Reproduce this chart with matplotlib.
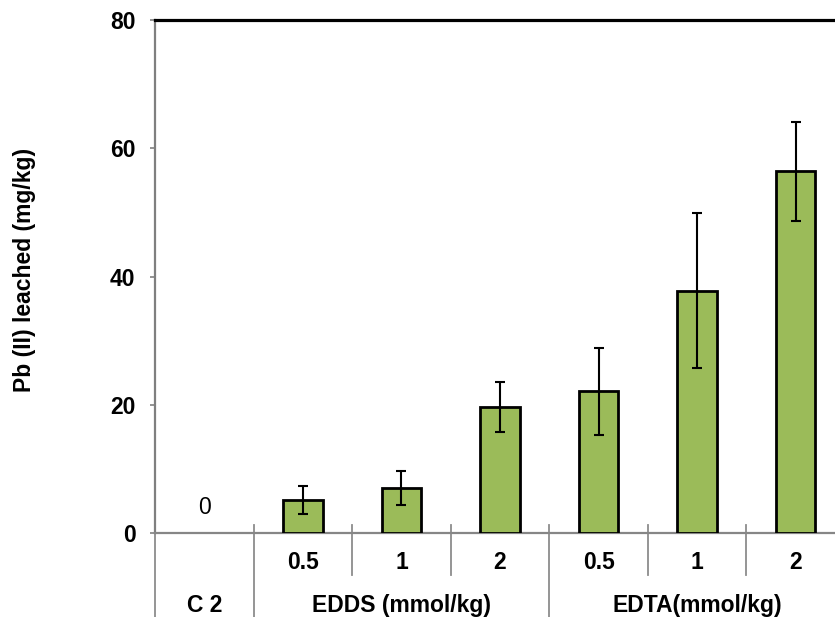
import matplotlib
matplotlib.use("Agg")
import matplotlib.pyplot as plt
import matplotlib.transforms as mtransforms
import numpy as np

# ---- data ----
groups = ["C 2", "EDDS (mmol/kg)", "EDTA(mmol/kg)"]
group_sizes = [1, 3, 3]
sub_labels = ["", "0.5", "1", "2", "0.5", "1", "2"]
values = [0.0, 5.1, 7.0, 19.6, 22.1, 37.8, 56.4]
errors = [0.0, 2.2, 2.7, 3.9, 6.8, 12.1, 7.7]
yticks = [0, 20, 40, 60, 80]
ylabel = "Pb (II) leached (mg/kg)"

plt.rcParams['font.family'] = ['Liberation Sans', 'DejaVu Sans']
FS = 16.5

W, H = 835, 617
fig = plt.figure(figsize=(W / 100, H / 100), dpi=100)
ax_left, ax_bottom = 155 / W, (H - 533) / H
ax_w, ax_h = 690 / W, 513 / H
ax = fig.add_axes([ax_left, ax_bottom, ax_w, ax_h])

x = np.arange(len(values))
vals = np.array(values)
errs = np.array(errors)
edge = ["black" if v > 0 else "none" for v in vals]
ax.bar(x, vals, width=0.4, color="#9BBB59", edgecolor=edge,
       linewidth=2.0, zorder=3)
mask = errs > 0
ax.errorbar(x[mask], vals[mask], yerr=errs[mask],
            fmt="none", ecolor="black", elinewidth=1.5, capsize=3.8,
            capthick=1.5, zorder=4)

# data label for zero-valued bar
for xi, v in zip(x, vals):
    if v == 0:
        ax.text(xi, v + 4.0, "0", ha="center", va="center", fontsize=FS,
                color="black")

ax.set_xlim(-0.5, len(values) - 0.5)
ax.set_ylim(0, 80)
ax.set_yticks(yticks)
ax.set_yticklabels([str(t) for t in yticks], fontsize=FS, fontweight="bold")
ax.tick_params(axis="y", direction="out", length=3.6, width=1.2,
               color="#808080", pad=10.5)
ax.set_xticks([])

ax.spines["top"].set_color("black")
ax.spines["top"].set_linewidth(2.3)
ax.spines["right"].set_color("black")
ax.spines["right"].set_linewidth(2.3)
ax.spines["left"].set_color("#7f7f7f")
ax.spines["left"].set_linewidth(1.6)
ax.spines["bottom"].set_color("#868686")
ax.spines["bottom"].set_linewidth(1.6)

# multi-level category axis
trans = mtransforms.blended_transform_factory(ax.transData, fig.transFigure)
top_tick = (H - 525) / H
short_end = (H - 575) / H
sep_color = "#8c8c8c"

bounds = np.arange(len(values) + 1) - 0.5
group_edges = np.concatenate([[0], np.cumsum(group_sizes)]) - 0.5
for b in bounds:
    is_group = np.any(np.isclose(group_edges, b))
    y0 = 0.0 if is_group else short_end
    ax.plot([b, b], [top_tick if b > -0.5 else ax_bottom, y0], color=sep_color,
            lw=1.3, transform=trans, clip_on=False, zorder=1)

for xi, lab in zip(x, sub_labels):
    if lab:
        ax.text(xi, (H - 569) / H, lab, transform=trans, ha="center",
                va="baseline", fontsize=FS, fontweight="bold")

start = 0
for g, n in zip(groups, group_sizes):
    cx = start + (n - 1) / 2
    ax.text(cx, (H - 612) / H, g, transform=trans, ha="center",
            va="baseline", fontsize=FS, fontweight="bold")
    start += n

fig.text(25 / W, 1 - 270 / H, ylabel, rotation=90, ha="center",
         va="center", fontsize=FS, fontweight="bold")

fig.savefig("out.png", dpi=100)
